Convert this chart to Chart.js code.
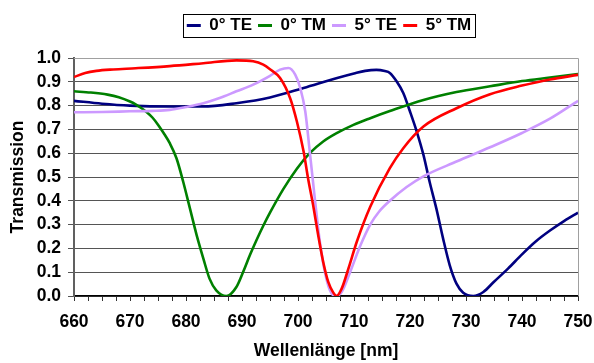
<!DOCTYPE html>
<html>
<head>
<meta charset="utf-8">
<title>Transmission</title>
<script src="https://cdn.jsdelivr.net/npm/chart.js@4.4.1/dist/chart.umd.min.js"></script>
<style>
  html, body { margin: 0; padding: 0; background: #fff; }
  #wrap { width: 594px; height: 363px; }
</style>
</head>
<body>
<div id="wrap"><canvas id="chart" width="594" height="363"></canvas></div>
<script>
// wavelengths (nm) and transmission values
const te0Nm = [660, 665, 670, 677, 683, 689, 695, 701, 707, 710, 712, 714, 715.5, 716.4, 717.6, 718.8, 720, 721.2, 722.4, 723.5, 724.7, 725.9, 727.1, 728.3, 729.5, 731.3, 733.1, 735, 737.5, 740, 742.5, 745, 747.5, 750];
const te0 = [0.82, 0.808, 0.80, 0.796, 0.796, 0.81, 0.834, 0.874, 0.916, 0.935, 0.946, 0.95, 0.945, 0.937, 0.902, 0.853, 0.775, 0.691, 0.593, 0.48, 0.368, 0.242, 0.129, 0.052, 0.014, 0, 0.017, 0.06, 0.115, 0.175, 0.23, 0.275, 0.315, 0.35];

const tm0Nm = [660, 663, 666, 668, 670, 671, 672, 673, 674, 675, 676, 677.1, 678.3, 679.5, 680.7, 681.9, 683.1, 684.2, 685.4, 687.2, 689, 690.2, 691.4, 692.6, 693.8, 695, 697.4, 699.8, 702.1, 704.5, 706.9, 709.9, 712.9, 716.4, 722.4, 728.3, 734.3, 740, 745, 750];
const tm0 = [0.86, 0.855, 0.846, 0.835, 0.817, 0.805, 0.79, 0.772, 0.75, 0.72, 0.685, 0.642, 0.579, 0.48, 0.368, 0.256, 0.157, 0.073, 0.024, 0, 0.038, 0.101, 0.171, 0.235, 0.295, 0.35, 0.45, 0.535, 0.60, 0.649, 0.684, 0.719, 0.747, 0.777, 0.824, 0.857, 0.881, 0.903, 0.918, 0.933];

const te5Nm = [660, 665, 670, 674, 677.1, 680, 683.1, 686, 689, 692, 695, 696.8, 698.3, 699.5, 700.4, 701.3, 702.1, 703, 703.9, 704.8, 705.7, 706.6, 707.8, 709.3, 711.1, 712.9, 714.5, 716.4, 719.4, 722.4, 728.3, 734.3, 740, 745, 750];
const te5 = [0.772, 0.773, 0.776, 0.778, 0.782, 0.794, 0.81, 0.832, 0.86, 0.888, 0.925, 0.951, 0.958, 0.93, 0.874, 0.775, 0.607, 0.41, 0.228, 0.101, 0.024, 0, 0.017, 0.10, 0.21, 0.30, 0.355, 0.40, 0.458, 0.503, 0.565, 0.625, 0.685, 0.745, 0.82];

const tm5Nm = [660, 662, 664, 667, 671, 677.1, 683.1, 689, 692, 693.8, 695, 696.8, 698.6, 699.8, 701, 701.8, 702.7, 703.6, 704.5, 705.4, 706.3, 706.9, 707.8, 709, 710.5, 712.9, 716.4, 718.8, 722.4, 728.3, 734.3, 740, 745, 750];
const tm5 = [0.92, 0.937, 0.946, 0.952, 0.957, 0.966, 0.978, 0.99, 0.986, 0.972, 0.953, 0.916, 0.831, 0.733, 0.607, 0.494, 0.382, 0.256, 0.143, 0.059, 0.014, 0, 0.031, 0.115, 0.228, 0.375, 0.537, 0.621, 0.712, 0.789, 0.848, 0.884, 0.91, 0.929];

const seriesNames = ['0° TE', '0° TM', '5° TE', '5° TM'];
const yTicks = [0, 0.1, 0.2, 0.3, 0.4, 0.5, 0.6, 0.7, 0.8, 0.9, 1.0];

const FONT = "'Liberation Sans', Arial, sans-serif";

function points(xs, ys) {
    return xs.map((x, i) => ({ x: x, y: ys[i] }));
}

function series(label, xs, ys, color, order) {
    return {
        label: label,
        data: points(xs, ys),
        borderColor: color,
        backgroundColor: color,
        borderWidth: 2.6,
        pointRadius: 0,
        cubicInterpolationMode: 'monotone',
        order: order
    };
}

// excel-ish frame: grey top/right border plus a box round the legend
const framePlugin = {
    id: 'frame',
    afterInit(chart) {
        const legend = chart.legend;
        const fit = legend.fit;
        legend.fit = function() {
            fit.call(this);
            this.height = 47;
        };
    },
    afterLayout(chart) {
        // legend sits a bit right of centre in the original
        chart.legend.left += 40;
        chart.legend.right += 40;
    },
    beforeDatasetsDraw(chart) {
        const a = chart.chartArea;
        const ctx = chart.ctx;
        ctx.save();
        ctx.strokeStyle = '#a0a0a0';
        ctx.lineWidth = 1;
        ctx.beginPath();
        ctx.moveTo(a.left, Math.round(a.top) + 0.5);
        ctx.lineTo(Math.round(a.right) + 0.5, Math.round(a.top) + 0.5);
        ctx.lineTo(Math.round(a.right) + 0.5, a.bottom);
        ctx.stroke();
        ctx.restore();
    },
    afterDraw(chart) {
        const boxes = chart.legend.legendHitBoxes;
        if (!boxes || !boxes.length) return;
        let l = Infinity, r = -Infinity, t = Infinity, b = -Infinity;
        boxes.forEach(hb => {
            l = Math.min(l, hb.left);
            r = Math.max(r, hb.left + hb.width);
            t = Math.min(t, hb.top);
            b = Math.max(b, hb.top + hb.height);
        });
        const ctx = chart.ctx;
        ctx.save();
        ctx.strokeStyle = '#000';
        ctx.lineWidth = 1;
        ctx.strokeRect(Math.round(l - 4) + 0.5, Math.round(t - 3) + 0.5, Math.round(r - l + 8), Math.round(b - t + 6));
        ctx.restore();
    }
};

new Chart(document.getElementById('chart'), {
    type: 'line',
    data: {
        datasets: [
            series(seriesNames[0], te0Nm, te0, '#000080', 4),
            series(seriesNames[1], tm0Nm, tm0, '#008000', 3),
            series(seriesNames[2], te5Nm, te5, '#cc99ff', 2),
            series(seriesNames[3], tm5Nm, tm5, '#ff0000', 1)
        ]
    },
    options: {
        responsive: false,
        animation: false,
        events: [],
        layout: { padding: { top: 11, right: 16, bottom: 0, left: 0 } },
        plugins: {
            tooltip: { enabled: false },
            legend: {
                position: 'top',
                labels: {
                    boxWidth: 14,
                    boxHeight: 3,
                    padding: 6,
                    color: '#000',
                    font: { family: FONT, size: 17, weight: 'bold' },
                    sort: (a, b) => a.datasetIndex - b.datasetIndex,
                    generateLabels: function(chart) {
                        return Chart.defaults.plugins.legend.labels.generateLabels(chart).map(item => {
                            item.fillStyle = item.strokeStyle;
                            item.lineWidth = 0;
                            return item;
                        });
                    }
                }
            }
        },
        scales: {
            x: {
                type: 'linear',
                min: 660,
                max: 750,
                afterFit: function(scale) {
                    scale.height = 67;
                    scale.paddingLeft = 0;
                    scale.paddingRight = 0;
                },
                ticks: {
                    stepSize: 2.5,
                    autoSkip: false,
                    maxTicksLimit: 100,
                    maxRotation: 0,
                    padding: 11,
                    color: '#000',
                    font: { family: FONT, size: 17.5, weight: 'bold' },
                    callback: v => (v % 10 === 0 ? String(v) : '')
                },
                grid: { drawOnChartArea: false, drawTicks: true, tickLength: 5, color: '#333' },
                border: { color: '#000', width: 1.5 },
                title: {
                    display: true,
                    text: 'Wellenlänge [nm]',
                    color: '#000',
                    font: { family: FONT, size: 17.5, weight: 'bold' },
                    padding: { top: 0, bottom: 1 }
                }
            },
            y: {
                min: 0,
                max: 1,
                afterFit: function(scale) { scale.width = 74; },
                afterBuildTicks: function(scale) {
                    scale.ticks = yTicks.map(v => ({ value: v }));
                },
                ticks: {
                    autoSkip: false,
                    padding: 7,
                    color: '#000',
                    font: { family: FONT, size: 17.5, weight: 'bold' },
                    callback: v => v.toFixed(1)
                },
                grid: { color: '#555', lineWidth: 1, tickLength: 6 },
                border: { color: '#606060', width: 2 },
                title: {
                    display: true,
                    text: 'Transmission',
                    color: '#000',
                    font: { family: FONT, size: 17.5, weight: 'bold' },
                    padding: { top: 8, bottom: 0 }
                }
            }
        }
    },
    plugins: [framePlugin]
});
</script>
</body>
</html>
